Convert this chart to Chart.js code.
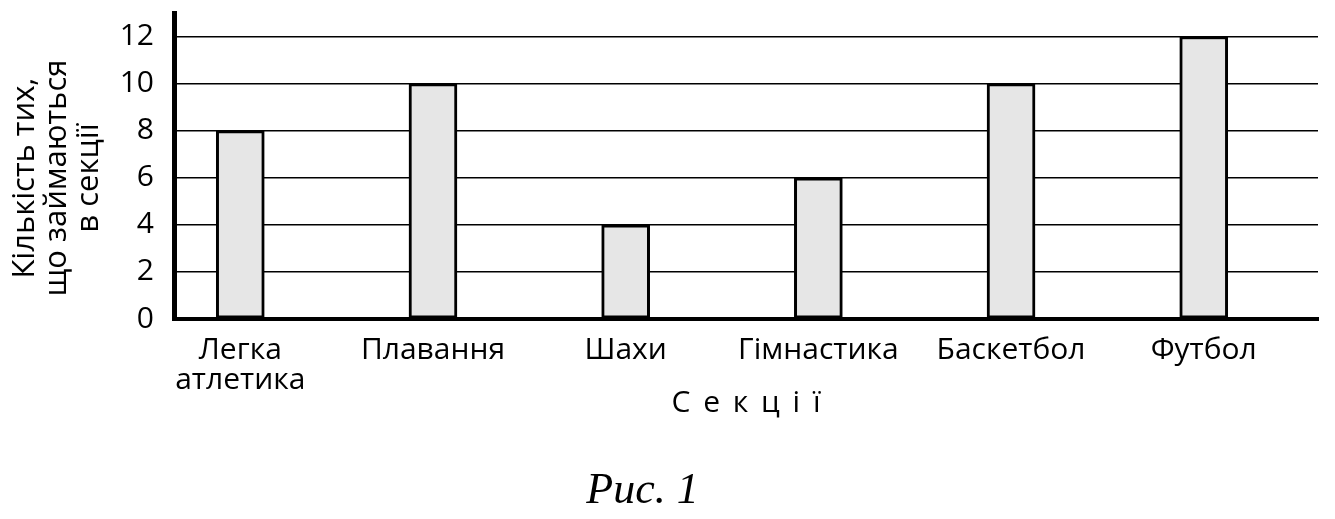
<!DOCTYPE html>
<html>
<head>
<meta charset="utf-8">
<style>
  html, body { margin: 0; padding: 0; background: #ffffff; }
  #wrap { width: 1335px; height: 519px; position: relative; }
</style>
<script src="https://cdn.jsdelivr.net/npm/chart.js@4.4.1/dist/chart.umd.min.js"></script>
</head>
<body>
<div id="wrap"><canvas id="c" width="1335" height="519"></canvas></div>
<script>
// ---- data ----
const categories = ["Легка\nатлетика", "Плавання", "Шахи", "Гімнастика", "Баскетбол", "Футбол"];
const counts = [8, 10, 4, 6, 10, 12];
const yTicks = [0, 2, 4, 6, 8, 10, 12];
const yTitle = ["Кількість тих,\u00A0\u00A0\u00A0", "що займаються\u00A0\u00A0\u00A0", "в секції\u00A0\u00A0\u00A0"];
const xTitle = "С \u2009е \u2009к \u2009ц \u2009і \u2009ї";
const caption = "Рис. 1\u00A0\u00A0\u00A0";

const FONT = "'Open Sans', 'Noto Sans', sans-serif";

const ctx = document.getElementById('c').getContext('2d');
new Chart(ctx, {
  type: 'bar',
  data: {
    datasets: [{
      data: counts.map((v, i) => ({ x: i, y: v })),
      backgroundColor: '#e6e6e6',
      borderColor: '#000000',
      borderWidth: 3,
      borderSkipped: false,
      barThickness: 48
    }]
  },
  options: {
    responsive: false,
    animation: false,
    events: [],
    layout: { padding: { left: 0, right: 17, top: 13, bottom: 0 } },
    plugins: {
      legend: { display: false },
      tooltip: { enabled: false },
      title: {
        display: true,
        position: 'bottom',
        text: caption,
        color: '#000',
        font: { family: "'Liberation Serif', 'DejaVu Serif', serif", style: 'italic', size: 44, weight: 'normal', lineHeight: 1.2 },
        padding: { top: 0, bottom: 1 }
      }
    },
    scales: {
      x: {
        type: 'linear',
        min: -0.344,
        max: 5.593,
        offset: false,
        afterFit: (s) => { s.height = 146.2; s.paddingLeft = 0; s.paddingRight = 0; },
        afterBuildTicks: (s) => { s.ticks = categories.map((_, i) => ({ value: i })); },
        grid: { display: true, drawOnChartArea: false, drawTicks: false, offset: false },
        border: { display: true, color: '#000', width: 4 },
        ticks: {
          autoSkip: false,
          maxRotation: 0,
          minRotation: 0,
          padding: 16,
          color: '#000',
          font: { family: FONT, size: 30, lineHeight: 1.0 },
          callback: (v) => {
            const c = categories[Math.round(v)];
            return c === undefined ? '' : c.split('\n');
          }
        },
        title: {
          display: true,
          text: xTitle,
          color: '#000',
          font: { family: FONT, size: 30, lineHeight: 1.2 },
          padding: { top: 0, bottom: 44 }
        }
      },
      y: {
        min: 0,
        max: 13,
        afterFit: (s) => { s.width = 174; s.paddingTop = 0; s.paddingBottom = 0; },
        afterBuildTicks: (s) => { s.ticks = yTicks.map(v => ({ value: v })); },
        grid: { color: '#000', lineWidth: 1.5, drawTicks: false },
        border: { display: true, color: '#000', width: 5 },
        ticks: {
          padding: 20,
          color: '#000',
          font: { family: FONT, size: 30 }
        },
        title: {
          display: true,
          text: yTitle,
          color: '#000',
          font: { family: FONT, size: 31, lineHeight: 1.04 },
          padding: { top: 9, bottom: 0 }
        }
      }
    }
  }
});
</script>
</body>
</html>
